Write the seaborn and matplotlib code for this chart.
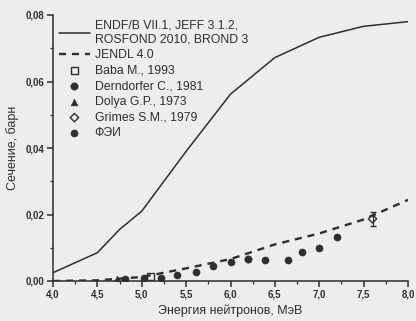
import matplotlib
matplotlib.use("Agg")
import matplotlib.pyplot as plt
import seaborn as sns
import numpy as np
import pandas as pd
from matplotlib.ticker import FuncFormatter, MultipleLocator

# Evaluated data
eval_E = [4.0, 4.5, 4.75, 5.0, 5.5, 6.0, 6.5, 7.0, 7.5, 8.0]
endf_xs = [0.0025, 0.0085, 0.0155, 0.021, 0.039, 0.0562, 0.0672, 0.0733, 0.0766, 0.0780]
jendl_E = [4.0, 4.5, 5.0, 5.5, 6.0, 6.5, 7.0, 7.5, 8.0]
jendl_xs = [0.0, 0.0002, 0.0012, 0.0038, 0.0066, 0.0110, 0.0143, 0.0185, 0.0244]

# Experimental data
baba_E = [5.10]
baba_xs = [0.0014]
dern_E = [6.20]
dern_xs = [0.0066]
dolya_E = [4.72]
dolya_xs = [0.0006]
grimes_E = [7.60]
grimes_xs = [0.0187]
grimes_err = [0.0021]
fei_E = [4.81, 5.02, 5.22, 5.40, 5.61, 5.80, 6.01, 6.39, 6.65, 6.80, 7.00, 7.20]
fei_xs = [0.0006, 0.0009, 0.0009, 0.0018, 0.0027, 0.0045, 0.0057, 0.0063, 0.0063, 0.0087, 0.0099, 0.0132]

sns.set_theme(style="ticks")
plt.rcParams['font.family'] = ['Liberation Sans', 'DejaVu Sans']
bg = "#ededed"
fg = "#2e2e2e"
fig = plt.figure(figsize=(4.16, 3.21), dpi=100, facecolor=bg)
ax = fig.add_axes([53/416, 1 - 281/321, (408-53)/416, (281-15)/321])
ax.set_facecolor(bg)

sns.lineplot(x=eval_E, y=endf_xs, ax=ax, color=fg, lw=1.1,
             label="ENDF/B VII.1, JEFF 3.1.2,\nROSFOND 2010, BROND 3")
sns.lineplot(x=jendl_E, y=jendl_xs, ax=ax, color=fg, lw=1.7, dashes=False,
             linestyle=(0, (3, 2.5)), label="JENDL 4.0")
ax.errorbar(grimes_E, grimes_xs, yerr=grimes_err, fmt="none", ecolor=fg, elinewidth=0.9, capsize=2.5)
sns.scatterplot(x=baba_E, y=baba_xs, ax=ax, marker="s", s=22, facecolor="none", edgecolor=fg, linewidth=1.0, label="Baba M., 1993")
sns.scatterplot(x=dern_E, y=dern_xs, ax=ax, marker="o", s=28, color=fg, edgecolor=fg, label="Derndorfer C., 1981")
sns.scatterplot(x=dolya_E, y=dolya_xs, ax=ax, marker="^", s=24, color=fg, edgecolor=fg, label="Dolya G.P., 1973")
sns.scatterplot(x=grimes_E, y=grimes_xs, ax=ax, marker="D", s=18, facecolor="none", edgecolor=fg, linewidth=1.0, label="Grimes S.M., 1979")
sns.scatterplot(x=fei_E, y=fei_xs, ax=ax, marker="o", s=26, color=fg, edgecolor=fg, label="ФЭИ")

ax.set_xlim(4.0, 8.0)
ax.set_ylim(0.0, 0.08)
ax.xaxis.set_major_locator(MultipleLocator(0.5))
ax.xaxis.set_minor_locator(MultipleLocator(0.25))
ax.yaxis.set_major_locator(MultipleLocator(0.02))
ax.yaxis.set_minor_locator(MultipleLocator(0.01))
ax.xaxis.set_major_formatter(FuncFormatter(lambda v, p: f"{v:.1f}".replace(".", ",")))
ax.yaxis.set_major_formatter(FuncFormatter(lambda v, p: f"{v:.2f}".replace(".", ",")))
sns.despine(ax=ax)
for s in ["left", "bottom"]:
    ax.spines[s].set_color(fg)
    ax.spines[s].set_linewidth(1.1)
ax.tick_params(which="major", length=4, width=1.1, color=fg, labelsize=7, labelcolor=fg, pad=2)
ax.tick_params(which="minor", length=2, width=0.9, color=fg)
for t in ax.get_xticklabels() + ax.get_yticklabels():
    t.set_fontweight("bold")

ax.set_xlabel("Энергия нейтронов, МэВ", fontsize=9, color=fg, labelpad=4)
ax.set_ylabel("Сечение, барн", fontsize=9, color=fg, labelpad=5)

leg = ax.legend(loc="upper left", bbox_to_anchor=(-0.005, 1.01), frameon=False, fontsize=8.8,
                handlelength=2.6, handletextpad=0.35, labelspacing=0.3, borderaxespad=0.2)
for t in leg.get_texts():
    t.set_color(fg)

fig.savefig("out.png", dpi=100, facecolor=bg)
